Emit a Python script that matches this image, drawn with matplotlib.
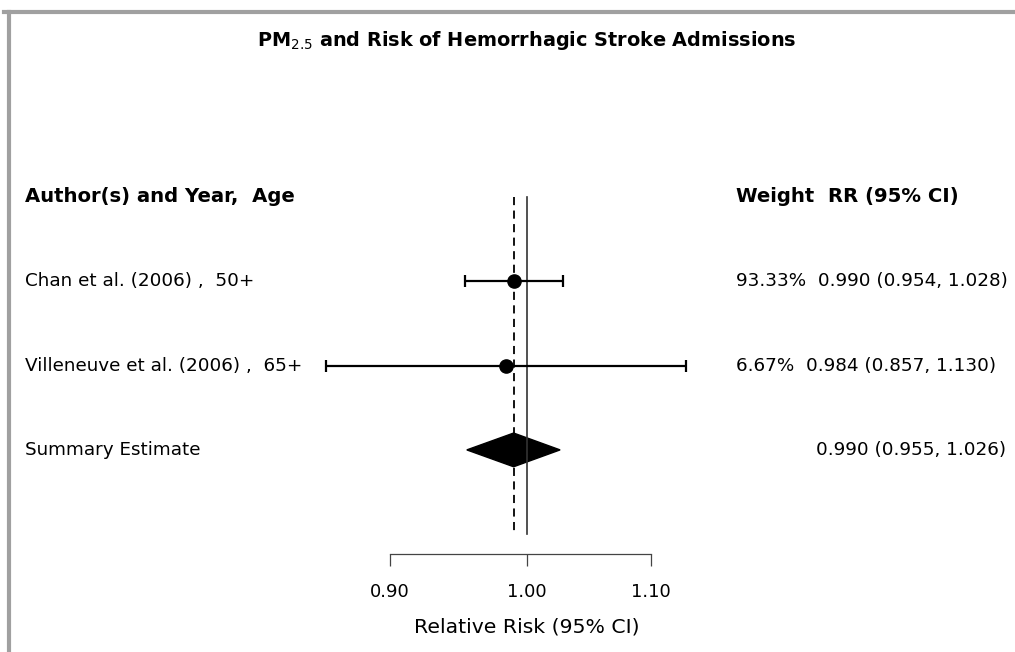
import numpy as np
import matplotlib
matplotlib.use("Agg")
import matplotlib.pyplot as plt
from matplotlib.lines import Line2D
from matplotlib.patches import Polygon
import matplotlib.ticker as mtick

plt.rcParams['font.family'] = ['DejaVu Sans']

# study data
studies = ["Chan et al. (2006) ,  50+", "Villeneuve et al. (2006) ,  65+"]
weights = ["93.33%", "6.67%"]
rr = [0.990, 0.984]
lo = [0.954, 0.857]
hi = [1.028, 1.130]

# pooled estimate
sum_label = "Summary Estimate"
sum_rr = 0.990
sum_lo = 0.955
sum_hi = 1.026

ticks = [0.90, 1.00, 1.10]

W, H = 1015, 652
fig = plt.figure(figsize=(W / 100, H / 100), dpi=100)
ax = fig.add_axes([0, 0, 1, 1])
ax.set_xscale('log')
# pixel scale: 1.00 sits at x=526.7, ~1300.7 px per log unit
ax.set_xlim(np.exp(-526.7 / 1300.7), np.exp((W - 526.7) / 1300.7))
ax.set_ylim((H - 197) / 84.3, -197 / 84.3)
ax.patch.set_alpha(0)

# reference lines
ax.plot([1.0, 1.0], [0, 4], color='#333333', lw=1.2)
ax.plot([sum_rr, sum_rr], [0, 4], color='black', lw=1.3, dashes=(4.5, 3))

# individual studies
for i in range(len(studies)):
    y = i + 1
    ax.errorbar(rr[i], y, xerr=[[rr[i] - lo[i]], [hi[i] - rr[i]]], fmt='o',
                color='black', ms=9.5, elinewidth=1.6, capsize=4, capthick=1.6)

# summary diamond
ys = len(studies) + 1
ax.add_patch(Polygon([[sum_lo, ys], [sum_rr, ys - 0.2], [sum_hi, ys], [sum_rr, ys + 0.2]],
                     closed=True, facecolor='black', edgecolor='black'))

# text columns
tr = ax.get_yaxis_transform()
fs = 13.2
ax.text(25 / W, 0, "Author(s) and Year,  Age", transform=tr, ha='left', va='center',
        fontsize=14.1, fontweight='bold')
ax.text(736 / W, 0, "Weight  RR (95% CI)", transform=tr, ha='left', va='center',
        fontsize=14.1, fontweight='bold')
for i in range(len(studies)):
    y = i + 1
    ax.text(25 / W, y, studies[i], transform=tr, ha='left', va='center', fontsize=fs)
    ax.text(736 / W, y, "%s  %.3f (%.3f, %.3f)" % (weights[i], rr[i], lo[i], hi[i]),
            transform=tr, ha='left', va='center', fontsize=fs)
ax.text(25 / W, ys, sum_label, transform=tr, ha='left', va='center', fontsize=fs)
ax.text(1006 / W, ys, "%.3f (%.3f, %.3f)" % (sum_rr, sum_lo, sum_hi),
        transform=tr, ha='right', va='center', fontsize=fs)

# bottom axis
for s in ['top', 'left', 'right']:
    ax.spines[s].set_visible(False)
ax.spines['bottom'].set_position(('axes', (H - 554) / H))
ax.spines['bottom'].set_bounds(ticks[0], ticks[-1])
ax.spines['bottom'].set_color('#444444')
ax.spines['bottom'].set_linewidth(0.9)
ax.set_xticks(ticks)
ax.xaxis.set_minor_locator(mtick.NullLocator())
ax.xaxis.set_major_formatter(mtick.FuncFormatter(lambda v, p: "%.2f" % v))
ax.tick_params(axis='x', length=8.6, width=0.9, color='#444444', pad=12, labelsize=13)
ax.set_yticks([])
ax.set_xlabel("Relative Risk (95% CI)", fontsize=14.7, labelpad=12)
ax.xaxis.label.set_x(526.5 / W)

fig.text(527 / W, 1 - 41 / H, r"PM$_{2.5}$ and Risk of Hemorrhagic Stroke Admissions",
         ha='center', va='center', fontsize=13.9, fontweight='bold')

# grey frame around the panel
fig.add_artist(Line2D([4 / W, 1], [1 - 12 / H, 1 - 12 / H], color='#a0a0a0', lw=3))
fig.add_artist(Line2D([9 / W, 9 / W], [0, 1 - 12 / H], color='#a0a0a0', lw=3))

fig.savefig("out.png", dpi=100)
